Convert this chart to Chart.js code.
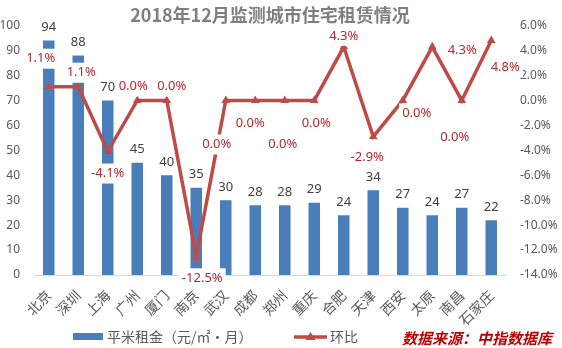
<!DOCTYPE html>
<html>
<head>
<meta charset="utf-8">
<script src="https://cdn.jsdelivr.net/npm/chart.js@4.4.1/dist/chart.umd.min.js"></script>
<style>
html, body { margin: 0; padding: 0; background: #fff; }
</style>
</head>
<body>
<canvas id="myChart" width="562" height="348"></canvas>
<script>
// data
var cities = ['北京', '深圳', '上海', '广州', '厦门', '南京', '武汉', '成都', '郑州', '重庆', '合肥', '天津', '西安', '太原', '南昌', '石家庄'];
var rent = [94, 88, 70, 45, 40, 35, 30, 28, 28, 29, 24, 34, 27, 24, 27, 22];
var mom = [1.1, 1.1, -4.1, 0.0, 0.0, -12.5, 0.0, 0.0, 0.0, 0.0, 4.3, -2.9, 0.0, 4.3, 0.0, 4.8];
var rentAxis = { min: 0, max: 100, step: 10 };
var momAxis = { min: -14, max: 6, step: 2 };

var barBlue = '#4a7ebb';
var lineRed = '#be4b48';
var labelRed = '#b5282e';
var cjk = '"Noto Sans CJK SC", "Noto Sans", sans-serif';
var latin = '"Noto Sans", "DejaVu Sans", sans-serif';

// where each % label sits relative to its point (px), like the hand-dragged excel labels
var momShift = [[-8, -28], [3, -14], [0, 22], [-4, -14], [5, -14], [6, 22], [-9, 44], [-5, 23],
	[-2, 44], [2, 23], [0, -11], [-6, 21], [14, 13], [30, 3], [-7, 37], [14, 27]];

//value labels over bars and line points
var valueLabels = {
	id: 'valueLabels',
	afterDatasetsDraw: function(chart) {
		var ctx = chart.ctx;
		var bars = chart.getDatasetMeta(0).data;
		var pts = chart.getDatasetMeta(1).data;
		ctx.save();
		ctx.textAlign = 'center';
		ctx.textBaseline = 'middle';
		ctx.font = '13px ' + latin;

		pts.forEach(function(p, i) {
			var t = mom[i].toFixed(1) + '%';
			var x = p.x + momShift[i][0];
			var y = p.y + momShift[i][1];
			var w = ctx.measureText(t).width + 6;
			ctx.fillStyle = '#fff';
			ctx.fillRect(x - w / 2, y - 10, w, 20);
			ctx.fillStyle = labelRed;
			ctx.fillText(t, x, y);
		});

		ctx.fillStyle = '#404040';
		bars.forEach(function(b, i) {
			ctx.fillText(rent[i], b.x, b.y - 13);
		});
		ctx.restore();
	}
};

//legend row + data source note at the bottom
var bottomLegend = {
	id: 'bottomLegend',
	afterDraw: function(chart) {
		var ctx = chart.ctx;
		var ds = chart.data.datasets;
		var y = 337;
		ctx.save();
		ctx.textBaseline = 'middle';
		ctx.textAlign = 'left';
		ctx.font = '14px ' + cjk;

		ctx.fillStyle = barBlue;
		ctx.fillRect(73, y - 4, 30, 7);
		ctx.fillStyle = '#595959';
		ctx.fillText(ds[0].label, 107, y);

		ctx.strokeStyle = lineRed;
		ctx.lineWidth = 3.5;
		ctx.beginPath();
		ctx.moveTo(294, y);
		ctx.lineTo(327, y);
		ctx.stroke();
		ctx.fillStyle = lineRed;
		ctx.beginPath();
		ctx.moveTo(310.5, y - 5);
		ctx.lineTo(315.5, y + 3);
		ctx.lineTo(305.5, y + 3);
		ctx.closePath();
		ctx.fill();
		ctx.fillStyle = '#595959';
		ctx.fillText(ds[1].label, 330, y);

		ctx.font = 'italic bold 15px ' + cjk;
		ctx.fillStyle = '#c00000';
		ctx.fillText('数据来源：中指数据库', 402, y + 1);
		ctx.restore();
	}
};

var ctx = document.getElementById('myChart');
var myChart = new Chart(ctx, {
	type: 'bar',
	data: {
		labels: cities,
		datasets: [{
			type: 'bar',
			label: '平米租金（元/㎡·月）',
			data: rent,
			backgroundColor: barBlue,
			barPercentage: 0.39,
			categoryPercentage: 1,
			yAxisID: 'y',
			order: 1
		}, {
			type: 'line',
			label: '环比',
			data: mom,
			borderColor: lineRed,
			backgroundColor: lineRed,
			borderWidth: 3.5,
			pointStyle: 'triangle',
			pointRadius: 5,
			pointBorderWidth: 0,
			tension: 0,
			yAxisID: 'y1',
			order: 0
		}]
	},
	options: {
		responsive: false,
		animation: false,
		devicePixelRatio: 1,
		layout: { padding: 0 },
		plugins: {
			legend: { display: false },
			tooltip: { enabled: false },
			title: {
				display: true,
				fullSize: false,
				text: '2018年12月监测城市住宅租赁情况',
				color: '#7f7f7f',
				font: { family: cjk, size: 18, weight: 'bold' },
				padding: { top: 4, bottom: 0 }
			}
		},
		scales: {
			x: {
				z: 1,
				grid: { display: false },
				border: { display: true, color: '#d9d9d9', width: 1 },
				ticks: {
					minRotation: 45,
					maxRotation: 45,
					autoSkip: false,
					padding: 4,
					color: '#595959',
					font: { family: cjk, size: 14 }
				},
				afterFit: function(s) { s.height = 73; }
			},
			y: {
				position: 'left',
				min: rentAxis.min,
				max: rentAxis.max,
				grid: { display: false, drawTicks: false },
				border: { display: false },
				ticks: {
					stepSize: rentAxis.step,
					padding: 14,
					color: '#595959',
					font: { family: latin, size: 12 }
				},
				afterFit: function(s) { s.width = 34; }
			},
			y1: {
				position: 'right',
				z: 1,
				min: momAxis.min,
				max: momAxis.max,
				grid: { display: false, drawTicks: false },
				border: { display: false },
				ticks: {
					stepSize: momAxis.step,
					padding: 14,
					color: '#595959',
					font: { family: latin, size: 12 },
					callback: function(v) { return v.toFixed(1) + '%'; }
				},
				afterFit: function(s) { s.width = 56; }
			}
		}
	},
	plugins: [valueLabels, bottomLegend]
});
</script>
</body>
</html>
